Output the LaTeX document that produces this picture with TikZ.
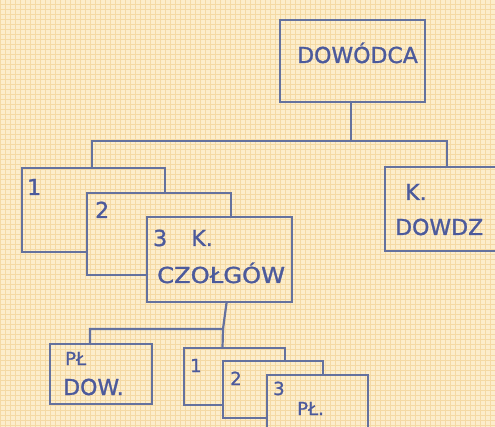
\documentclass[tikz,border=0pt]{standalone}
\usepackage{fontspec}
\setmainfont{DejaVu Sans}
\newfontfamily\hand{DejaVu Sans}[FakeBold=1.2]
\usepackage{tikz}
\usetikzlibrary{positioning}
\definecolor{paper}{HTML}{FCEDCB}
\definecolor{gridcol}{HTML}{F4D9A4}
\definecolor{pen}{HTML}{64719E}
\definecolor{ink}{HTML}{4C5A9C}

\begin{document}
\begin{tikzpicture}[x=1pt, y=-1pt,
  line/.style={draw=pen, line width=2.2pt},
  box/.style={rectangle, inner sep=0pt},
  fullbox/.style={box, line},
  txt/.style={text=ink, inner sep=0pt, anchor=base west, font=\hand\fontsize{22}{24}\selectfont},
  small/.style={txt, font=\hand\fontsize{18}{20}\selectfont},
  gridline/.style={draw=gridcol, line width=1pt}]
  \useasboundingbox (0,0) rectangle (495,427);
  \clip (0,0) rectangle (495,427);

  % Kratka
  \fill[paper] (0,0) rectangle (495,427);
  \foreach \g in {0,5,...,495} \draw[gridline] (\g,0) -- (\g,427);
  \foreach \g in {0,5,...,425} \draw[gridline] (0,\g) -- (495,\g);

  % Pola
  \node[fullbox, minimum width=145pt, minimum height=82pt] (dow) at (352.5,61) {};
  \node[box, minimum width=143pt, minimum height=84pt] (k1) at (93.5,210) {};
  \node[box, minimum width=144pt, minimum height=82pt] (k2) at (159,234) {};
  \node[fullbox, minimum width=145pt, minimum height=85pt] (k3) at (219.5,259.5) {};
  \node[fullbox, minimum width=120pt, minimum height=84pt] (kd) at (445,209) {};
  \node[fullbox, minimum width=102pt, minimum height=60pt] (pd) at (101,374) {};
  \node[box, minimum width=101pt, minimum height=57pt] (p1) at (234.5,376.5) {};
  \node[box, minimum width=100pt, minimum height=57pt] (p2) at (273,389.5) {};
  \node[fullbox, minimum width=101pt, minimum height=65pt] (p3) at (317.5,407.5) {};

  % Pola zasłonięte
  \foreach \back/\front in {k1/k2, k2/k3, p1/p2, p2/p3} {
    \draw[line] (\back.east |- \front.north) -- (\back.north east) -- (\back.north west)
      -- (\back.south west) -- (\back.south west -| \front.west);
  }

  % Połączenia
  \coordinate (bus) at (351,141);
  \draw[line] ([xshift=-1.5pt]dow.south) -- (bus);
  \draw[line] ([xshift=-1.5pt]k1.north) |- (bus) -| ([xshift=2pt]kd.north);
  \coordinate (bus2) at (223,329);
  \draw[line] ([xshift=7pt]k3.south) -- (bus2);
  \draw[line] ([xshift=-11pt]pd.north) |- (bus2) -- ([xshift=-12pt]p1.north);

  % Napisy
  \node[txt] (t-dow) at (297,63) {DOWÓDCA};
  \node[txt] (t-k1) at (27,195) {1};
  \node[txt] (t-k2) at (95,218) {2};
  \node[txt] (t-k3) at (153,246) {3\hspace{1.1em}K.};
  \node[txt, xscale=1.1] (t-czo) at (157,283) {CZOŁGÓW};
  \node[txt] (t-kd1) at (405,200) {K.};
  \node[txt] (t-kd2) at (395,235) {DOWDZ};
  \node[small] (t-pd1) at (65,365) {PŁ};
  \node[txt] (t-pd2) at (63,395) {DOW.};
  \node[small] (t-p1) at (190,372) {1};
  \node[small] (t-p2) at (230,385) {2};
  \node[small] (t-p3) at (273,395) {3};
  \node[small] (t-p3b) at (297,415) {PŁ.};
\end{tikzpicture}
\end{document}
